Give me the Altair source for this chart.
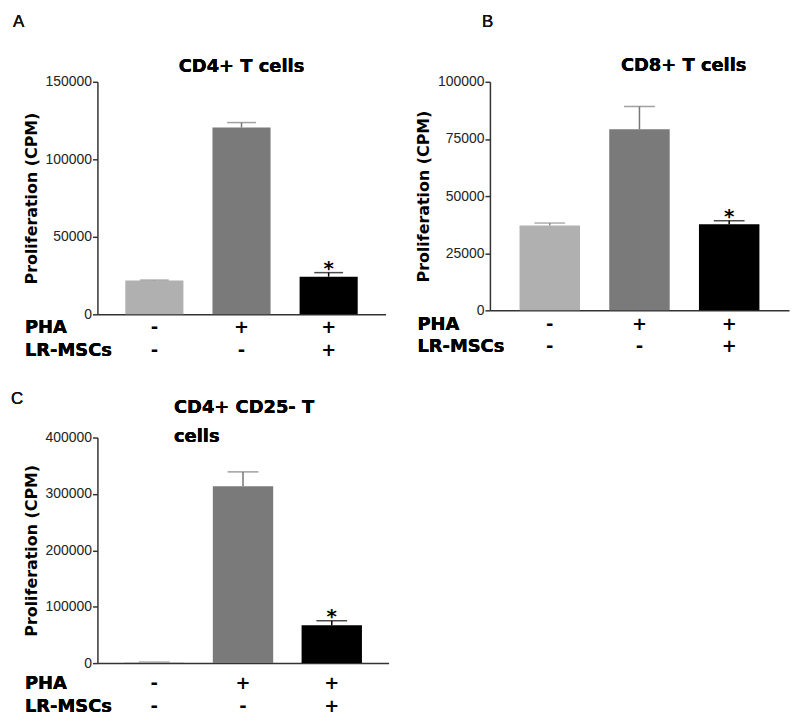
import altair as alt
import pandas as pd

groups = ["ctrl", "pha", "pha_msc"]
pha_signs = ["-", "+", "+"]
msc_signs = ["-", "-", "+"]
stars = ["", "", "*"]
bar_colors = ["#b0b0b0", "#7a7a7a", "#000000"]
err_colors = ["#8c8c8c", "#777777", "#000000"]

a_vals = [21800, 120500, 24300]
a_errs = [300, 3200, 2600]
a_ticks = [0, 50000, 100000, 150000]

b_vals = [37100, 79200, 37700]
b_errs = [1100, 10000, 1500]
b_ticks = [0, 25000, 50000, 75000, 100000]

c_vals = [1500, 313800, 66900]
c_errs = [400, 25300, 8200]
c_ticks = [0, 100000, 200000, 300000, 400000]

BOLD = "DejaVu Sans"
REG = "Liberation Sans, Arial"


def panel(letter, title, vals, errs, ticks, w, h, pin, pout,
          letter_xy, title_xy, title_align, row_dy, cap):
    df = pd.DataFrame({
        "group": groups, "value": vals,
        "upper": [v + e for v, e in zip(vals, errs)],
        "pha": pha_signs, "msc": msc_signs, "star": stars,
        "bar_color": bar_colors, "err_color": err_colors,
    })
    x = alt.X("group:N", sort=groups,
              scale=alt.Scale(paddingInner=pin, paddingOuter=pout),
              axis=alt.Axis(labels=False, ticks=False, title=None,
                            domainColor="#333333", domainWidth=1.5))
    ys = alt.Scale(domain=[0, ticks[-1]], nice=False)
    base = alt.Chart(df)
    bars = base.mark_bar().encode(
        x=x,
        y=alt.Y("value:Q", scale=ys,
                axis=alt.Axis(values=ticks, format="d", grid=False,
                              title="Proliferation (CPM)",
                              titleFont=BOLD, titleFontWeight="bold",
                              titleFontSize=16, titleColor="#000000",
                              titlePadding=6,
                              labelFont=REG, labelFontSize=14,
                              labelColor="#222222", labelPadding=1,
                              tickSize=5, tickWidth=1.5, tickColor="#333333",
                              domainColor="#333333", domainWidth=1.5)),
        color=alt.Color("bar_color:N", scale=None),
    )
    err = base.mark_rule(strokeWidth=1.5).encode(
        x=x, y="value:Q", y2="upper:Q",
        color=alt.Color("err_color:N", scale=None))
    caps = base.mark_tick(size=cap, thickness=1.5).encode(
        x=x, y=alt.Y("upper:Q", scale=ys),
        color=alt.Color("err_color:N", scale=None))
    star = base.mark_text(font=BOLD, fontSize=20, fontWeight="bold",
                          baseline="alphabetic", dy=2).encode(
        x=x, y=alt.Y("upper:Q", scale=ys), text="star:N")
    pha_t = base.mark_text(font=BOLD, fontSize=18, fontWeight="bold",
                           baseline="middle").encode(
        x=x, y=alt.value(h + row_dy[0]), text="pha:N")
    msc_t = base.mark_text(font=BOLD, fontSize=18, fontWeight="bold",
                           baseline="middle").encode(
        x=x, y=alt.value(h + row_dy[1]), text="msc:N")
    lab_pha = base.mark_text(font=BOLD, fontSize=18, fontWeight="bold",
                             baseline="middle", align="left",
                             text="PHA").encode(
        x=alt.value(-73), y=alt.value(h + row_dy[0]))
    lab_msc = base.mark_text(font=BOLD, fontSize=18, fontWeight="bold",
                             baseline="middle", align="left",
                             text="LR-MSCs").encode(
        x=alt.value(-73), y=alt.value(h + row_dy[1]))
    let = base.mark_text(font=REG, fontSize=17, fontWeight="normal",
                         baseline="middle", align="left",
                         color="#111111", text=letter).encode(
        x=alt.value(letter_xy[0]), y=alt.value(letter_xy[1]))
    ttl = base.mark_text(font=BOLD, fontSize=18, fontWeight="bold",
                         baseline="middle", align=title_align,
                         lineHeight=29, text=title).encode(
        x=alt.value(title_xy[0]), y=alt.value(title_xy[1]))
    return alt.layer(bars, err, caps, star, pha_t, msc_t, lab_pha, lab_msc,
                     let, ttl).properties(width=w, height=h)


pa = panel("A", "CD4+ T cells", a_vals, a_errs, a_ticks, 290, 234,
           0.333, 0.32, (-85, -60), (145, -15), "center", (14, 37), 29)
pb = panel("B", "CD8+ T cells", b_vals, b_errs, b_ticks, 301, 230,
           0.326, 0.33, (-8, -60), (195, -16), "center", (15, 37), 31)
pc = panel("C", ["CD4+ CD25- T", "cells"], c_vals, c_errs, c_ticks, 293, 227,
           0.32, 0.3, (-87, -39), (77, -30), "left", (21, 44), 31)

chart = alt.vconcat(
    alt.hconcat(pa, pb, spacing=30),
    pc, spacing=30,
).properties(padding=3).configure_view(stroke=None)

chart.save("out.html", embed_options={"renderer": "svg", "actions": False})
